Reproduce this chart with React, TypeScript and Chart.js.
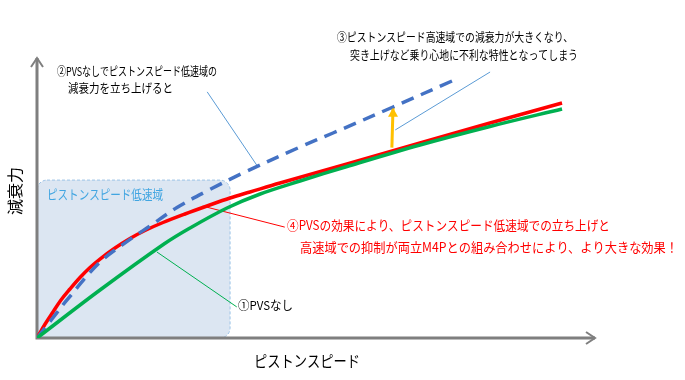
import React, { useEffect, useRef } from "react";
import { Chart, registerables } from "chart.js";

Chart.register(...registerables);

// Curves (x: piston speed 0-100, y: damping force 0-100)
const greenX = [0, 11.29, 22.76, 27.42, 34.05, 40.0, 47.13, 55.56, 68.64, 81.18, 94.09];
const greenY = [0, 17.14, 33.57, 39.29, 46.43, 51.43, 56.07, 61.25, 68.93, 75.54, 81.79];
const redX = [0, 1.43, 2.87, 4.3, 5.91, 7.71, 9.5, 11.29, 13.98, 16.67, 19.35, 22.58, 26.52, 30.47, 34.59, 38.17, 43.55, 55.56, 68.64, 81.18, 94.09];
const redY = [0, 4.9, 9.3, 13.57, 17.5, 21.61, 25.18, 28.21, 32.14, 35.54, 38.39, 41.25, 44.29, 47.14, 50.0, 52.14, 55.36, 62.14, 69.64, 76.79, 83.93];
const blueX = [0, 2.69, 5.38, 11.29, 16.67, 20.25, 25.09, 30.47, 36.92, 47.13, 53.05, 63.8, 74.37];
const blueY = [0, 6.8, 13.6, 27.1, 35.2, 40.0, 46.61, 52.5, 58.93, 68.21, 73.21, 82.5, 91.79];

// Orange arrow (from red curve up to the dashed curve)
const arrowX = [63.6, 63.8];
const arrowY = [68.0, 82.2];

// Low speed region box
const lowRegionX = [0, 34.6];
const lowRegionY = [0, 56.4];

// Leader lines [x1, y1, x2, y2]
const leader1 = [21.5, 30.7, 35.8, 11.1];
const leader2 = [30.5, 87.9, 39.6, 61.1];
const leader3 = [64.2, 74.3, 81.2, 95.0];
const leader4 = [29.7, 47.1, 44.4, 39.6];

// Texts
const yTitle = "減衰力";
const xTitle = "ピストンスピード";
const regionLabel = "ピストンスピード低速域";
const note1 = ["①PVSなし"];
const note2 = ["②PVSなしでピストンスピード低速域の", "減衰力を立ち上げると"];
const note3 = ["③ピストンスピード高速域での減衰力が大きくなり、", "突き上げなど乗り心地に不利な特性となってしまう"];
const note4 = ["④PVSの効果により、ピストンスピード低速域での立ち上げと", "高速域での抑制が両立M4Pとの組み合わせにより、より大きな効果！"];

const FONT = '"Noto Sans CJK JP", "Noto Sans", sans-serif';

function pts(xs: number[], ys: number[]) {
  return xs.map((x, i) => ({ x, y: ys[i] }));
}

const decorPlugin = {
  id: "decor",
  beforeDatasetsDraw(chart: any) {
    const { ctx, scales } = chart;
    const xs = scales.x, ys = scales.y;
    // low region box
    const x0 = xs.getPixelForValue(lowRegionX[0]);
    const x1 = xs.getPixelForValue(lowRegionX[1]);
    const y0 = ys.getPixelForValue(lowRegionY[1]);
    const y1 = ys.getPixelForValue(lowRegionY[0]);
    ctx.save();
    ctx.beginPath();
    (ctx as any).roundRect(x0, y0, x1 - x0, y1 - y0, 10);
    ctx.fillStyle = "#dce6f2";
    ctx.fill();
    ctx.setLineDash([3, 2]);
    ctx.strokeStyle = "#9dc3e6";
    ctx.lineWidth = 1;
    ctx.stroke();
    ctx.setLineDash([]);
    ctx.font = `13px ${FONT}`;
    ctx.fillStyle = "#41a5e1";
    ctx.textBaseline = "middle";
    ctx.fillText(regionLabel, x0 + 10, y0 + 14, 116);

    // leader lines
    const leader = (l: number[], color: string) => {
      ctx.beginPath();
      ctx.moveTo(xs.getPixelForValue(l[0]), ys.getPixelForValue(l[1]));
      ctx.lineTo(xs.getPixelForValue(l[2]), ys.getPixelForValue(l[3]));
      ctx.strokeStyle = color;
      ctx.lineWidth = 1;
      ctx.stroke();
    };
    leader(leader1, "#00b050");
    leader(leader2, "#5b9bd5");
    leader(leader3, "#5b9bd5");
    leader(leader4, "#ff0000");

    // axes
    const ox = xs.getPixelForValue(0);
    const oy = ys.getPixelForValue(0);
    const top = ys.getPixelForValue(100);
    const right = xs.getPixelForValue(100);
    ctx.strokeStyle = "#7f7f7f";
    ctx.lineWidth = 3;
    ctx.lineCap = "butt";
    ctx.beginPath();
    ctx.moveTo(ox, oy + 1.5);
    ctx.lineTo(ox, top);
    ctx.moveTo(ox - 1.5, oy);
    ctx.lineTo(right, oy);
    ctx.stroke();
    ctx.lineWidth = 2;
    ctx.beginPath();
    ctx.moveTo(ox - 6, top + 9);
    ctx.lineTo(ox, top);
    ctx.lineTo(ox + 6, top + 9);
    ctx.moveTo(right - 9, oy - 6);
    ctx.lineTo(right, oy);
    ctx.lineTo(right - 9, oy + 6);
    ctx.stroke();
    ctx.restore();
  },
  afterDatasetsDraw(chart: any) {
    const { ctx, scales } = chart;
    const xs = scales.x, ys = scales.y;
    ctx.save();
    // arrow head
    const ax = xs.getPixelForValue(arrowX[1]);
    const ay = ys.getPixelForValue(arrowY[1]);
    ctx.strokeStyle = "#ffc000";
    ctx.fillStyle = "#ffc000";
    ctx.lineWidth = 2;
    ctx.beginPath();
    ctx.moveTo(ax - 5, ay + 9);
    ctx.lineTo(ax, ay);
    ctx.lineTo(ax + 5, ay + 9);
    ctx.closePath();
    ctx.fill();

    // titles
    ctx.fillStyle = "#000";
    ctx.textBaseline = "middle";
    ctx.font = `16px ${FONT}`;
    ctx.textAlign = "center";
    ctx.fillText(xTitle, 307, 361, 106);
    ctx.save();
    ctx.translate(15, 191);
    ctx.rotate(-Math.PI / 2);
    ctx.fillText(yTitle, 0, 0, 54);
    ctx.restore();

    ctx.textAlign = "left";
    ctx.font = `12px ${FONT}`;
    ctx.fillStyle = "#000";
    ctx.fillText(note2[0], 57, 71, 160);
    ctx.fillText(note2[1], 68, 88, 105);
    ctx.fillText(note3[0], 337, 37, 236);
    ctx.fillText(note3[1], 350, 55, 228);
    ctx.fillText(note1[0], 238, 305, 55);
    ctx.font = `13px ${FONT}`;
    ctx.fillStyle = "#ff0000";
    ctx.fillText(note4[0], 287, 225, 323);
    ctx.fillText(note4[1], 300, 247, 378);
    ctx.restore();
  },
};

export default function App() {
  const ref = useRef<HTMLCanvasElement>(null);
  useEffect(() => {
    document.body.style.margin = "0";
    const chart = new Chart(ref.current!, {
      type: "line",
      data: {
        datasets: [
          {
            data: pts(greenX, greenY),
            borderColor: "#00b050",
            borderWidth: 3.5,
            tension: 0.35,
            pointRadius: 0,
          },
          {
            data: pts(blueX, blueY),
            borderColor: "#4472c4",
            borderWidth: 3.5,
            borderDash: [13, 8],
            tension: 0.35,
            pointRadius: 0,
          },
          {
            data: pts(redX, redY),
            borderColor: "#ff0000",
            borderWidth: 3.5,
            tension: 0.35,
            pointRadius: 0,
          },
          {
            data: pts(arrowX, arrowY),
            borderColor: "#ffc000",
            borderWidth: 3,
            pointRadius: 0,
          },
        ],
      },
      options: {
        responsive: false,
        animation: false,
        layout: { padding: { left: 37, right: 90, top: 58, bottom: 42 } },
        scales: {
          x: { type: "linear", min: 0, max: 100, display: false },
          y: { type: "linear", min: 0, max: 100, display: false },
        },
        plugins: { legend: { display: false }, tooltip: { enabled: false } },
        elements: { line: { borderCapStyle: "butt" } },
      },
      plugins: [decorPlugin],
    });
    return () => chart.destroy();
  }, []);
  return (
    <div style={{ position: "absolute", left: 0, top: 0, width: 685, height: 380, background: "#fff" }}>
      <canvas ref={ref} width={685} height={380} />
    </div>
  );
}
